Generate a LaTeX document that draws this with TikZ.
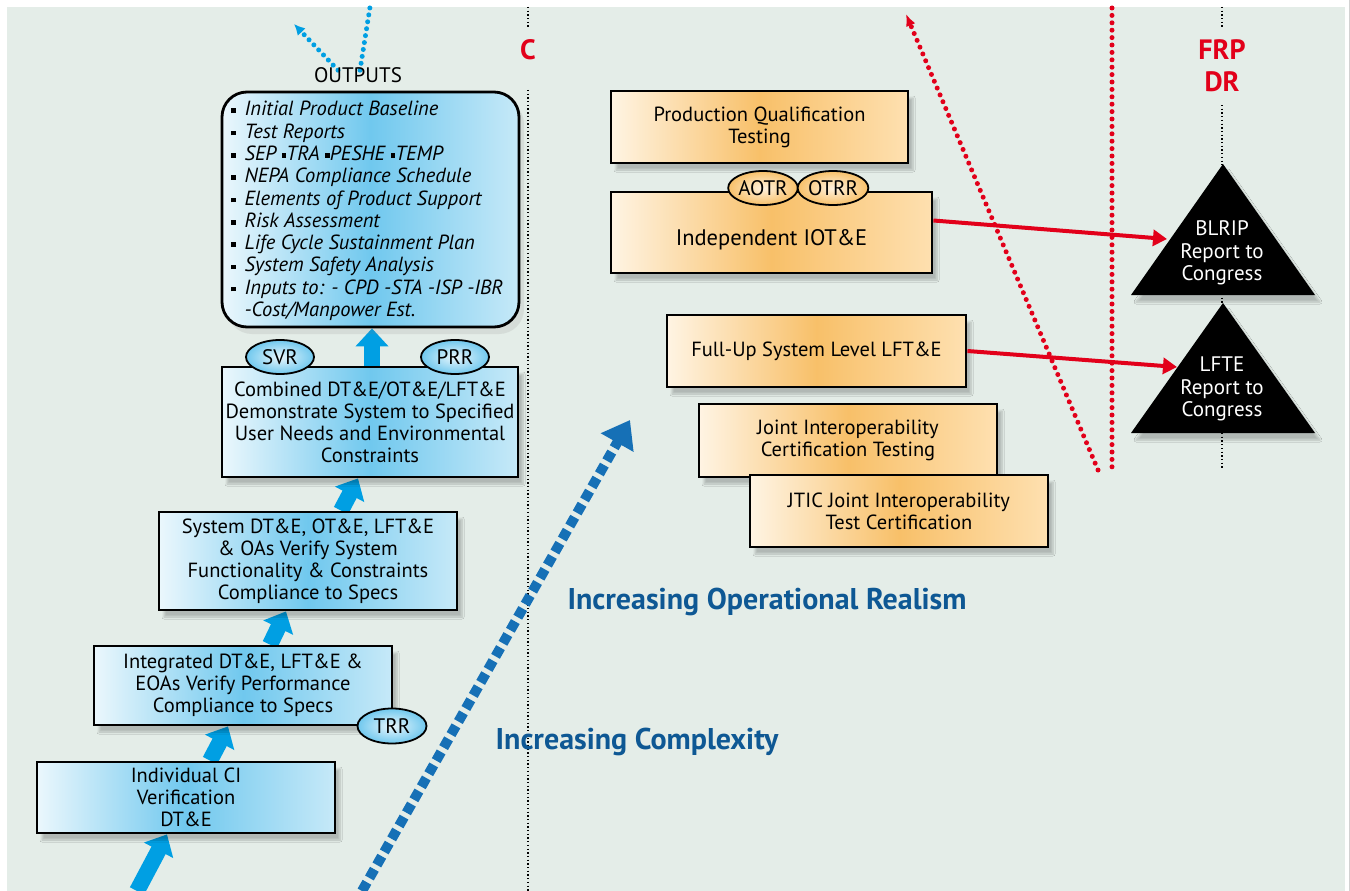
\documentclass[tikz,border=0pt]{standalone}
\usepackage{fontspec}
\setmainfont{PT Sans}
\usetikzlibrary{arrows.meta, shapes.geometric, shadows.blur}

\definecolor{bgcol}{RGB}{228,237,232}
\definecolor{arrcyan}{RGB}{0,159,227}
\definecolor{dashblue}{RGB}{22,112,182}
\definecolor{headblue}{RGB}{14,88,148}
\definecolor{frpred}{RGB}{226,0,26}
\definecolor{blueL}{RGB}{198,233,248}
\definecolor{blueM}{RGB}{112,200,238}
\definecolor{orL}{RGB}{254,224,176}
\definecolor{orM}{RGB}{248,192,105}

\pgfdeclarelayer{bg}
\pgfsetlayers{bg,main}

\newcommand{\sq}{\rule[2.8pt]{4.6pt}{4.6pt}}

\begin{document}
\begin{tikzpicture}[x=1pt, y=-1pt,
  txt/.style={font=\fontsize{20.5}{22}\selectfont, align=center, inner sep=0pt},
  shd/.style={blur shadow={shadow xshift=5pt, shadow yshift=-7pt, shadow opacity=22, shadow blur steps=6}},
  bluebox/.style={txt, shd, draw=black, line width=2.8pt, left color=blueL!35!white, right color=blueL, middle color=blueM},
  outbox/.style={rounded corners=25pt, txt, draw=black, line width=2.8pt, left color=blueL!35!white, right color=blueL, middle color=blueM, drop shadow={shadow xshift=5pt, shadow yshift=-7pt, opacity=0.15}},
  orbox/.style={txt, shd, draw=black, line width=2.8pt, left color=orL!35!white, right color=orL, middle color=orM},
  blueoval/.style={txt, ellipse, draw=black, line width=1.8pt, font=\fontsize{21}{22}\selectfont, inner color=blueL!40!white, outer color=blueM, minimum width=68pt, minimum height=34pt},
  oroval/.style={txt, ellipse, draw=black, line width=1.8pt, font=\fontsize{21}{22}\selectfont, inner color=orL!40!white, outer color=orM, minimum width=68pt, minimum height=34pt},
  tritxt/.style={font=\fontsize{21}{22.5}\selectfont, text=white, align=center, inner sep=0pt},
  redlbl/.style={font=\fontsize{28}{32}\selectfont\bfseries, text=frpred, align=center, inner sep=0pt},
  headtxt/.style={font=\fontsize{30}{34}\selectfont\bfseries, text=headblue, inner sep=0pt},
  blackdots/.style={line width=1.3pt, dash pattern=on 1.3pt off 2.4pt},
  reddots/.style={frpred, line width=5pt, line cap=round, dash pattern=on 0pt off 7.4pt},
  bluedots/.style={arrcyan, line width=5pt, line cap=round, dash pattern=on 0pt off 7pt},
  upar/.style={arrcyan, line width=16pt, -{Triangle[length=18pt,width=32pt]}},
  redar/.style={frpred, line width=4pt, -{Triangle[length=14pt,width=16pt]}},
  dashar/.style={dashblue, line width=10pt, dash pattern=on 10pt off 5pt, -{Triangle[length=26pt,width=36pt]}}
]
\useasboundingbox (0,0) rectangle (1350,891);

\node[redlbl] (clbl) at (528,50) {C};
\node[redlbl] (frp) at (1222,66) {FRP\\DR};

% left column
\node[txt, font=\fontsize{21}{22}\selectfont] (outlbl) at (358,75) {OUTPUTS};
\node[outbox, minimum width=297pt, minimum height=235pt] (outp) at (370.5,209.5) {};
\node[txt, align=left, font=\fontsize{20.5}{22.3}\selectfont\itshape, anchor=west] (outlist) at (231,211) {%
\sq\ \,Initial Product Baseline\\
\sq\ \,Test Reports\\
\sq\ \,SEP \sq TRA \sq PESHE \sq TEMP\\
\sq\ \,NEPA Compliance Schedule\\
\sq\ \,Elements of Product Support\\
\sq\ \,Risk Assessment\\
\sq\ \,Life Cycle Sustainment Plan\\
\sq\ \,System Safety Analysis\\
\sq\ \,Inputs to: - CPD -STA -ISP -IBR\\
\phantom{\sq\ \,}-Cost/Manpower Est.};

\node[bluebox, minimum width=296pt, minimum height=110pt] (comb) at (370,422) {Combined DT\&E/OT\&E/LFT\&E\\Demonstrate System to Specified\\User Needs and Environmental\\Constraints};
\node[blueoval] (svr) at (280,357) {SVR};
\node[blueoval] (prr) at (455,357) {PRR};

\node[bluebox, minimum width=298pt, minimum height=98pt] (sys) at (308,561) {System DT\&E, OT\&E, LFT\&E\\\& OAs Verify System\\Functionality \& Constraints\\Compliance to Specs};
\node[bluebox, minimum width=298pt, minimum height=79pt] (integ) at (243,685.5) {Integrated DT\&E, LFT\&E \&\\EOAs Verify Performance\\Compliance to Specs};
\node[blueoval, minimum width=69pt, minimum height=35pt] (trr) at (392,726) {TRR};
\node[bluebox, minimum width=298pt, minimum height=71pt] (indiv) at (186,797.5) {Individual CI\\Verification\\DT\&E};

% right column
\node[orbox, minimum width=297pt, minimum height=72pt] (pqt) at (759.5,127) {Production Qualification\\Testing};
\node[orbox, minimum width=321pt, minimum height=81pt, font=\fontsize{22.5}{24}\selectfont] (iot) at (771.5,232.5) {\raisebox{-12.5pt}[0pt][0pt]{Independent IOT\&E}};
\node[oroval] (aotr) at (763,188) {AOTR};
\node[oroval, minimum width=70pt] (otrr) at (833,188) {OTRR};
\node[orbox, minimum width=299pt, minimum height=72pt] (fullup) at (816.5,351) {Full-Up System Level LFT\&E};
\node[orbox, minimum width=298pt, minimum height=73pt] (jict) at (848,440.5) {Joint Interoperability\\Certification Testing};
\node[orbox, minimum width=298pt, minimum height=72pt] (jtic) at (899,511) {JTIC Joint Interoperability\\Test Certification};

% reports
\fill[black, shd] (1223,164) -- (1315,295) -- (1131,295) -- cycle;
\fill[black, shd] (1223,303) -- (1315,433) -- (1131,433) -- cycle;
\node[tritxt] (blrip) at (1222,253) {BLRIP\\Report to\\Congress};
\node[tritxt] (lfte) at (1222,389) {LFTE\\Report to\\Congress};

\node[headtxt] (realism) at (767,602) {Increasing Operational Realism};
\node[headtxt] (cplx) at (637,742) {Increasing Complexity};

\coordinate (a0) at (137,891);
\coordinate (dq0) at (362,891);
\coordinate (dq1) at (630,420);
\coordinate (outtip) at (294,24);
\coordinate (outtop) at (370,7);
\coordinate (rd0) at (1098,470);
\coordinate (rd1) at (906,14);
\coordinate (blripin) at (1167,239);
\coordinate (lftein) at (1177,367);

\begin{pgfonlayer}{bg}
\fill[bgcol] (7,7) rectangle (1345,891);
\draw[gray!35, line width=1pt] (1349,0) -- (1349,891);
% milestone lines
\draw[blackdots] (528,7) -- (528,28);
\draw[blackdots] (528,90) -- (528,891);
\draw[blackdots] (1222,7) -- (1222,27);
\draw[blackdots] (1222,105) -- (1222,165);
\draw[blackdots] (1222,294) -- (1222,304);
\draw[blackdots] (1222,433) -- (1222,468);
\draw[reddots] (1112,8) -- (1112,470);

\draw[upar] (a0) -- ([xshift=-19pt]indiv.south);
\draw[upar] ([xshift=24pt]indiv.north) -- ([xshift=-15pt]integ.south);
\draw[upar] ([xshift=27pt]integ.north) -- ([xshift=-22pt]sys.south);
\draw[upar] ([xshift=33pt]sys.north) -- ([xshift=-12pt]comb.south);
\draw[upar] ([xshift=2pt]comb.north) -- ([xshift=1.5pt]outp.south);
\draw[dashar] (dq0) -- (dq1);
\draw[bluedots, -{Latex[length=11pt,width=11pt]}] ([xshift=-20pt,yshift=-3pt]outlbl.north) -- (outtip);
\draw[bluedots] ([xshift=2pt,yshift=-3pt]outlbl.north) -- (outtop);
\draw[reddots, -{Latex[length=12pt,width=10pt]}] (rd0) -- (rd1);
\end{pgfonlayer}

\draw[redar] ([yshift=12pt]iot.east) -- (blripin);
\draw[redar] (fullup.east) -- (lftein);

\end{tikzpicture}
\end{document}
